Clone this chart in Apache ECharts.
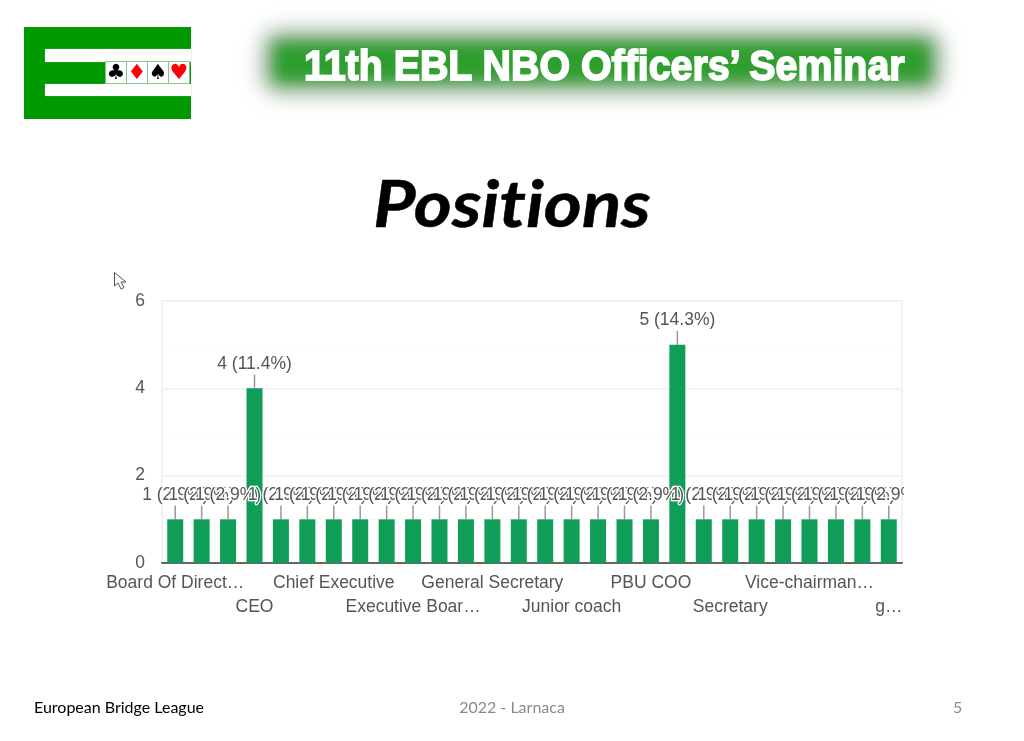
<!DOCTYPE html>
<html>
<head>
<meta charset="utf-8">
<title>Positions</title>
<script src="https://cdn.jsdelivr.net/npm/echarts@6/dist/echarts.min.js"></script>
<style>
  html, body { margin: 0; padding: 0; background: #fff; }
  #slide { position: relative; width: 1024px; height: 741px; overflow: hidden; font-family: Lato, sans-serif; }
  #prisChart { position: absolute; left: 0; top: 0; width: 1024px; height: 741px; }
  /* logo */
  .logo { position: absolute; left: 24px; top: 27px; width: 167px; height: 92px; background: #009900; }
  .logo i { position: absolute; left: 21px; right: 0; background: #fff; box-shadow: 0 0 1px #7fbf7f; }
  .logo .r1 { top: 22px; height: 13px; }
  .logo .r2 { top: 57px; height: 12px; }
  .suits { position: absolute; left: 82px; top: 35px; display: flex; }
  .suits span { width: 20px; height: 21px; margin-right: 1px; background: #fff; font: 21px/21px "DejaVu Sans"; text-align: center; box-shadow: 0 0 0 1px #8fc08f; }
  /* banner */
  .glow { position: absolute; left: 274px; top: 42px; width: 656px; height: 40px; background: #2f9e2f; box-shadow: 0 0 16px 11px rgba(85,130,85,.7); border-radius: 6px; filter: blur(7px); }
  .banner { position: absolute; left: 304px; top: 35px; width: 602px; height: 60px; }
  .banner b { position: absolute; left: 0; top: 0; color: #fff; white-space: nowrap; transform-origin: 0 0; transform: scaleX(0.915);
              font: bold 43px/60px "Liberation Sans"; -webkit-text-stroke: 1.8px #fff; }
  .heading { position: absolute; left: 0; width: 1024px; top: 162px; text-align: center; font: italic bold 65px/80px Lato; font-variant-ligatures: none; color: #000;
             transform: scaleX(1.12); -webkit-text-stroke: 0.5px #000; }
  .foot { position: absolute; top: 697px; font: 16px/20px Lato; }
  .cursor { position: absolute; left: 113px; top: 271px; }
  /* 最右边的标签在图表边缘被裁掉 */
  .edge { position: absolute; left: 904px; top: 482px; width: 40px; height: 24px; background: #fff; }
</style>
</head>
<body>
<div id="slide">
  <div id="prisChart"></div>
  <div class="edge"></div>
  <div class="logo">
    <i class="r1"></i><i class="r2"></i>
    <div class="suits"><span style="color:#000">♣</span><span style="color:#f00">♦</span><span style="color:#000">♠</span><span style="color:#f00">♥</span></div>
  </div>
  <div class="glow"></div>
  <div class="banner"><b>11th EBL NBO Officers’ Seminar</b></div>
  <div class="heading">Positions</div>
  <svg class="cursor" width="18" height="20"><path d="M1.5 1.5 V15 L5 12 L8 18 L11 16.5 L8 11 H13 Z" fill="#fff" stroke="#555" stroke-width="1"/></svg>
  <div class="foot" style="left:34px;color:#000">European Bridge League</div>
  <div class="foot" style="left:0;width:1024px;text-align:center;color:#8a8a8a">2022 - Larnaca</div>
  <div class="foot" style="left:953px;color:#8a8a8a">5</div>
</div>
<script>
// 只有每隔两个的分类名称能读出来，其余留空
var categories = ['Board Of Direct…','','','CEO','','','Chief Executive','','','Executive Boar…','','',
                  'General Secretary','','','Junior coach','','','PBU COO','','','Secretary','','',
                  'Vice-chairman…','','','g…'];
var counts = [1,1,1,4,1,1,1,1,1,1,1,1,1,1,1,1,1,1,1,5,1,1,1,1,1,1,1,1];
var yTicks = [0,2,4,6];

var total = 0;
for (var i = 0; i < counts.length; i++) { total += counts[i]; }

var textColor = '#555';
var chartFont = '"Liberation Sans", Arial, sans-serif';

// 标签分两行交错显示，第二行用一条偏移的类目轴
var rowAxis = function (offset, remainder, lineShow) {
  return {
    type: 'category',
    position: 'bottom',
    offset: offset,
    data: categories,
    axisTick: {show: false},
    axisLine: {show: lineShow, lineStyle: {color: '#666', width: 2}},
    axisLabel: {
      interval: function (index) { return index % 6 === remainder; },
      margin: 11,
      color: textColor,
      fontFamily: chartFont,
      fontSize: 17.5
    }
  };
};

var myChart = echarts.init(document.getElementById('prisChart'));
myChart.setOption({
  animation: false,
  grid: {
    show: true,
    left: 162, top: 301, width: 740, height: 262,
    borderColor: '#f2f2f2',
    borderWidth: 2
  },
  xAxis: [rowAxis(0, 0, true), rowAxis(24, 3, false)],
  yAxis: {
    type: 'value',
    min: yTicks[0],
    max: yTicks[yTicks.length - 1],
    interval: 2,
    axisLine: {show: false},
    axisTick: {show: false},
    axisLabel: {margin: 17, color: textColor, fontFamily: chartFont, fontSize: 17.5},
    splitLine: {lineStyle: {color: '#f0f0f0', width: 1.5}},
    minorTick: {show: false, splitNumber: 2},
    minorSplitLine: {show: true, lineStyle: {color: '#fafafa'}}
  },
  series: [{
    type: 'bar',
    xAxisIndex: 0,
    data: counts,
    barWidth: 16,
    itemStyle: {color: '#0f9d58'},
    label: {
      show: true,
      position: 'top',
      distance: 6,
      color: textColor,
      fontFamily: chartFont,
      fontSize: 17.5,
      textBorderColor: '#fff',
      textBorderWidth: 2.5,
      formatter: function (p) {
        return p.value + ' (' + (p.value / total * 100).toFixed(1) + '%)';
      }
    },
    labelLayout: {dy: -9, hideOverlap: false},
    labelLine: {show: true, lineStyle: {color: '#999', width: 1.5}}
  }]
});
</script>
</body>
</html>
